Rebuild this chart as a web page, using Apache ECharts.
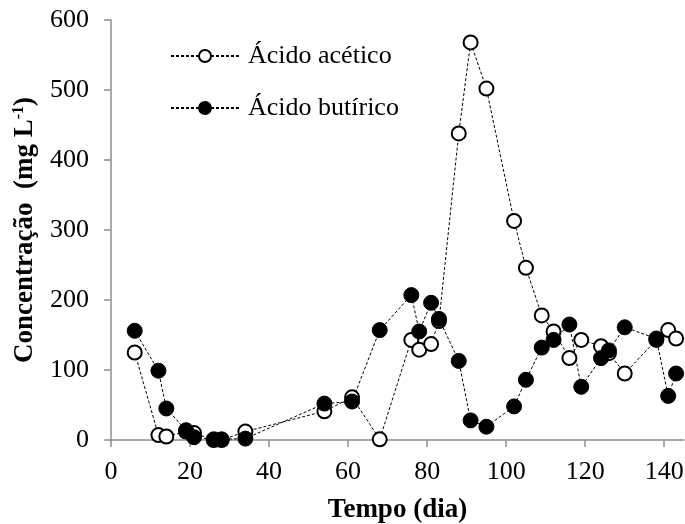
<!DOCTYPE html>
<html>
<head>
<meta charset="utf-8">
<script src="https://cdn.jsdelivr.net/npm/echarts@6/dist/echarts.min.js"></script>
<style>
html,body{margin:0;padding:0;background:#fff;}
#chart{width:685px;height:524px;}
</style>
</head>
<body>
<div id="chart"></div>
<script>
// tempo (dia)
let dias = [6, 12, 14, 19, 21, 26, 28, 34, 54, 61, 68, 76, 78, 81, 83, 88, 91, 95, 102, 105, 109, 112, 116, 119, 124, 126, 130, 138, 141, 143];
// concentração (mg/L)
let acetico = [125, 7, 5, 12, 10, 0, 0, 12, 41, 61, 1, 143, 129, 137, 170, 438, 568, 502, 313, 246, 178, 155, 117, 143, 134, 124, 95, 143, 157, 145];
let butirico = [156, 99, 45, 14, 4, 1, 1, 2, 52, 55, 157, 207, 155, 196, 173, 113, 28, 19, 48, 86, 132, 143, 165, 76, 117, 128, 161, 145, 63, 95];
let xTicks = [0, 20, 40, 60, 80, 100, 120, 140];

let fonte = "Liberation Serif";
let eixoCor = "#8e8e8e";

let pares = (xs, ys) => xs.map((x, i) => [x, ys[i]]);

let myChart = echarts.init(document.getElementById('chart'));

let option = {
    animation: false,
    grid: {left: 111, right: 1, top: 20, bottom: 84, outerBoundsMode: 'none', containLabel: false},
    legend: {
        orient: 'vertical',
        left: 165,
        top: 38,
        itemWidth: 68,
        itemHeight: 15,
        itemGap: 26,
        textStyle: {fontFamily: fonte, fontSize: 26, color: '#000', padding: [0, 0, 0, 4]},
        data: ['Ácido acético', 'Ácido butírico']
    },
    xAxis: {
        type: 'value',
        min: 0,
        max: 145,
        name: 'Tempo (dia)',
        nameLocation: 'middle',
        nameGap: 57,
        nameTextStyle: {fontFamily: fonte, fontSize: 27, fontWeight: 'bold', color: '#000'},
        splitLine: {show: false},
        axisLine: {lineStyle: {color: eixoCor, width: 1.5}},
        axisTick: {customValues: xTicks, length: 7, lineStyle: {color: eixoCor, width: 1.5}},
        axisLabel: {customValues: xTicks, fontFamily: fonte, fontSize: 26, color: '#000', margin: 19}
    },
    yAxis: {
        type: 'value',
        min: 0,
        max: 600,
        interval: 100,
        name: '{b|Concentração  (mg L}{s|-1}{b|)}',
        nameLocation: 'middle',
        nameGap: 72,
        nameTextStyle: {
            rich: {
                b: {fontFamily: fonte, fontSize: 27, fontWeight: 'bold', color: '#000'},
                s: {fontFamily: fonte, fontSize: 16, fontWeight: 'bold', color: '#000', padding: [0, 0, 12, 0]}
            }
        },
        splitLine: {show: false},
        axisLine: {show: true, lineStyle: {color: eixoCor, width: 1.5}},
        axisTick: {show: true, length: 7, lineStyle: {color: eixoCor, width: 1.5}},
        axisLabel: {fontFamily: fonte, fontSize: 26, color: '#000', margin: 22}
    },
    series: [
        {
            name: 'Ácido acético',
            type: 'line',
            data: pares(dias, acetico),
            symbol: 'circle',
            symbolSize: 14,
            clip: false,
            lineStyle: {color: '#000', width: 1, type: [3, 2]},
            itemStyle: {color: '#fff', borderColor: '#000', borderWidth: 2}
        },
        {
            name: 'Ácido butírico',
            type: 'line',
            data: pares(dias, butirico),
            symbol: 'circle',
            symbolSize: 15,
            clip: false,
            lineStyle: {color: '#000', width: 1, type: [3, 2]},
            itemStyle: {color: '#000', borderColor: '#000', borderWidth: 1}
        }
    ]
};

myChart.setOption(option);
</script>
</body>
</html>
